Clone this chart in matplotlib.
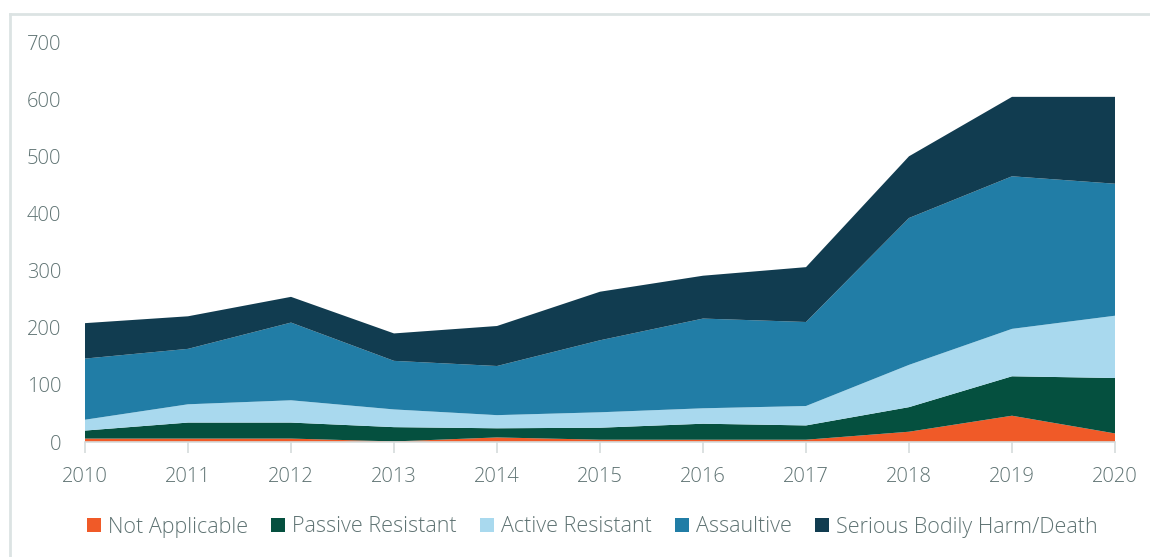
import matplotlib
matplotlib.use("Agg")
import matplotlib.pyplot as plt
from matplotlib.patches import Patch
from matplotlib.lines import Line2D
from matplotlib import font_manager

years = [2010, 2011, 2012, 2013, 2014, 2015, 2016, 2017, 2018, 2019, 2020]
not_applicable = [6, 6, 6, 1, 8, 4, 4, 4, 18, 46, 15]
passive_resistant = [14, 28, 28, 25, 16, 21, 28, 25, 43, 69, 97]
active_resistant = [19, 32, 39, 31, 23, 27, 27, 34, 74, 83, 109]
assaultive = [107, 97, 136, 85, 86, 126, 157, 147, 257, 267, 231]
serious_harm = [62, 57, 45, 48, 70, 85, 75, 96, 108, 139, 152]

labels = ["Not Applicable", "Passive Resistant", "Active Resistant",
          "Assaultive", "Serious Bodily Harm/Death"]
colors = ["#F05A28", "#05503F", "#A9D9EE", "#217DA6", "#113C50"]
yticks = [0, 100, 200, 300, 400, 500, 600, 700]

plt.rcParams['font.family'] = ['Open Sans', 'DejaVu Sans']
plt.rcParams['font.weight'] = 'light'
text_color = "#5F7373"

fig = plt.figure(figsize=(11.5, 5.57), dpi=100)
ax = fig.add_axes([85 / 1150, 1 - 442 / 557, 1030 / 1150, 400 / 557])

ax.stackplot(years, not_applicable, passive_resistant, active_resistant,
             assaultive, serious_harm, colors=colors, labels=labels,
             linewidth=0)

ax.set_xlim(years[0], years[-1])
ax.set_ylim(0, 700)
ax.set_xticks(years)
ax.set_yticks(yticks)
ax.tick_params(axis='x', colors="#D5DCDC", length=8, width=1.2,
               labelcolor=text_color, labelsize=14.5, pad=10)
ax.tick_params(axis='y', length=0, labelcolor=text_color, labelsize=14.5, pad=17)
for s in ["top", "right", "left"]:
    ax.spines[s].set_visible(False)
ax.spines["bottom"].set_color("#D5DCDC")
ax.spines["bottom"].set_linewidth(1.2)

handles = [Patch(facecolor=c, edgecolor='none') for c in colors]
fig.legend(handles, labels, loc="center", bbox_to_anchor=(0.515, 1 - 527 / 557),
           ncol=5, frameon=False, fontsize=15.5, labelcolor=text_color,
           handlelength=0.65, handleheight=0.65, handletextpad=0.3,
           columnspacing=1.1)

# outer light border
fig.add_artist(Line2D([10 / 1150, 10 / 1150], [0, 1 - 14 / 557],
                      transform=fig.transFigure, color="#DCE3E3", lw=2))
fig.add_artist(Line2D([10 / 1150, 1], [1 - 14 / 557, 1 - 14 / 557],
                      transform=fig.transFigure, color="#DCE3E3", lw=2))

fig.savefig("out.png", dpi=100)
